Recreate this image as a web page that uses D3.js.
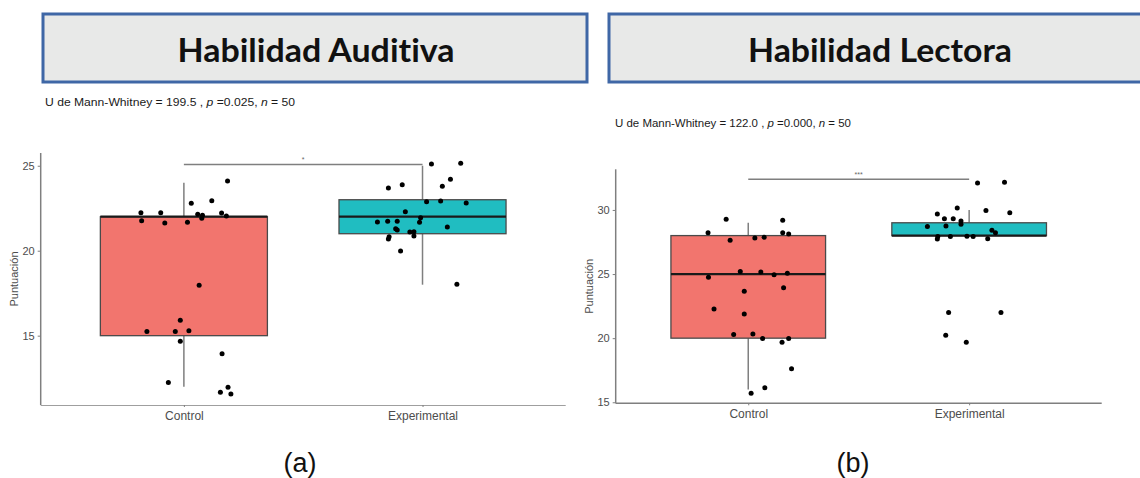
<!DOCTYPE html>
<html>
<head>
<meta charset="utf-8">
<script src="https://cdn.jsdelivr.net/npm/d3@7"></script>
<style>
  html, body { margin: 0; padding: 0; background: #ffffff; }
  svg { display: block; }
  .title { font-variant-ligatures: none; font-feature-settings: "liga" 0; }
</style>
</head>
<body>
<svg id="chart" width="1140" height="478"></svg>
<script>
// ---- data ----
const categories = ["Control", "Experimental"];
const groupColors = ["#f2756e", "#20bdc1"];

// Habilidad Auditiva: box summary [min whisker, Q1, median, Q3, max whisker]
const auditivaBoxControl = [12, 15, 22, 22, 24];
const auditivaBoxExperimental = [18, 21, 22, 23, 25];
const auditivaTicks = [15, 20, 25];

// individual scores (with the vertical jitter of the plot) and horizontal jitter, in category steps
const auditivaControlScores = [22.24, 22.24, 21.76, 21.63, 21.67, 22.79, 22.14, 22.08, 21.91, 22.94, 22.22, 22.04, 24.1,
  17.96, 15.91, 15.24, 15.24, 15.29, 14.67, 13.94, 12.24, 11.96, 11.67, 11.57];
const auditivaControlJitter = [-0.18, -0.097, -0.177, -0.08, 0.015, 0.031, 0.058, 0.078, 0.075, 0.117, 0.158, 0.178, 0.183,
  0.064, -0.015, -0.155, -0.036, 0.021, -0.015, 0.16, -0.065, 0.185, 0.153, 0.197];
const auditivaExperimentalScores = [25.1, 25.14, 23.69, 23.88, 23.79, 24.2, 22.88, 22.92, 22.81, 22.29, 21.94, 21.69, 21.73,
  21.73, 21.67, 21.39, 21.29, 21.22, 21.1, 21.12, 20.86, 20.82, 20.69, 19.98, 18.02];
const auditivaExperimentalJitter = [0.0375, 0.16, -0.143, -0.085, 0.083, 0.117, 0.017, 0.076, 0.183, -0.072, -0.008, -0.189, -0.146,
  -0.106, -0.0125, 0.104, -0.1125, -0.106, -0.053, -0.036, -0.036, -0.14, -0.143, -0.092, 0.144];

// Habilidad Lectora
const lectoraBoxControl = [16, 20, 25, 28, 29];
const lectoraBoxExperimental = [28, 28, 28, 29, 30];
const lectoraTicks = [15, 20, 25, 30];

const lectoraControlScores = [28.23, 29.27, 27.64, 27.82, 27.87, 29.2, 28.23, 28.13, 25.19, 25.17, 24.75, 24.94, 25.07,
  23.66, 23.94, 22.28, 21.89, 20.28, 20.33, 19.97, 19.69, 19.97, 17.61, 16.13, 15.71];
const lectoraControlJitter = [-0.182, -0.1, -0.082, 0.03, 0.072, 0.156, 0.156, 0.183, -0.036, 0.057, -0.18, 0.117, 0.177,
  -0.018, 0.16, -0.155, -0.018, -0.066, 0.021, 0.065, 0.153, 0.183, 0.196, 0.075, 0.013];
const lectoraExperimentalScores = [32.1, 32.16, 30.16, 29.69, 29.95, 29.79, 29.32, 29.32, 29.14, 28.89, 28.7, 28.75, 28.42,
  28.23, 27.92, 27.74, 27.92, 27.95, 27.92, 27.76, 22.0, 22.0, 20.23, 19.69];
const lectoraExperimentalJitter = [0.038, 0.16, -0.054, -0.144, 0.076, 0.184, -0.112, -0.072, -0.037, -0.037, -0.189, -0.105, 0.103,
  0.119, -0.142, -0.144, -0.085, -0.01, 0.018, 0.084, -0.093, 0.144, -0.106, -0.013];

// test results shown above each plot
const auditivaTest = { U: "199.5", p: "0.025", n: "50", stars: "*", bracketAt: 25.08 };
const lectoraTest = { U: "122.0", p: "0.000", n: "50", stars: "***", bracketAt: 32.39 };

// ---- drawing ----
const svg = d3.select("#chart");
const AXIS_GREY = "#7f7f7f";
const TEXT_GREY = "#4d4d4d";

function titleBox(x, y, w, h, label, cx, textWidth) {
  const g = svg.append("g");
  g.append("rect").attr("x", x).attr("y", y).attr("width", w).attr("height", h)
    .attr("fill", "#e8e9e8").attr("stroke", "#3f67a6").attr("stroke-width", 3);
  g.append("text").attr("class", "title").attr("x", cx).attr("y", y + 48)
    .attr("text-anchor", "middle")
    .attr("font-family", "Lato, 'Open Sans', sans-serif")
    .attr("font-weight", 700).attr("font-size", 33).attr("fill", "#111")
    .attr("textLength", textWidth).attr("lengthAdjust", "spacingAndGlyphs")
    .text(label);
}

function subtitle(x, y, test, width) {
  const t = svg.append("text").attr("x", x).attr("y", y)
    .attr("font-family", "'Liberation Sans', Arial, sans-serif")
    .attr("font-size", 11).attr("fill", "#1a1a1a")
    .attr("textLength", width).attr("lengthAdjust", "spacingAndGlyphs");
  t.append("tspan").text(`U de Mann-Whitney = ${test.U} , `);
  t.append("tspan").attr("font-style", "italic").text("p");
  t.append("tspan").text(` =${test.p}, `);
  t.append("tspan").attr("font-style", "italic").text("n");
  t.append("tspan").text(` = ${test.n}`);
}

function panel(cfg) {
  const g = svg.append("g");
  const x = d3.scalePoint().domain(categories).range([cfg.left, cfg.right]).padding(0.6);
  const step = x.step();
  const y = d3.scaleLinear().domain(cfg.yDomain).range([cfg.bottom, cfg.top]);
  const boxW = step * 0.7;

  // significance bracket
  g.append("line")
    .attr("x1", x(categories[0])).attr("x2", x(categories[1]))
    .attr("y1", y(cfg.test.bracketAt)).attr("y2", y(cfg.test.bracketAt))
    .attr("stroke", AXIS_GREY).attr("stroke-width", 1.5);
  g.append("text")
    .attr("x", (x(categories[0]) + x(categories[1])) / 2)
    .attr("y", y(cfg.test.bracketAt) - 2)
    .attr("text-anchor", "middle")
    .attr("font-family", "'Liberation Sans', Arial, sans-serif")
    .attr("font-size", 7).attr("fill", "#666")
    .text(cfg.test.stars);

  // boxes
  cfg.boxes.forEach((b, i) => {
    const cx = x(categories[i]);
    const [lo, q1, med, q3, hi] = b;
    g.append("line").attr("x1", cx).attr("x2", cx).attr("y1", y(q3)).attr("y2", y(hi))
      .attr("stroke", AXIS_GREY).attr("stroke-width", 1.5);
    g.append("line").attr("x1", cx).attr("x2", cx).attr("y1", y(q1)).attr("y2", y(lo))
      .attr("stroke", AXIS_GREY).attr("stroke-width", 1.5);
    g.append("rect")
      .attr("x", cx - boxW / 2).attr("width", boxW)
      .attr("y", y(q3)).attr("height", y(q1) - y(q3))
      .attr("fill", groupColors[i]).attr("stroke", "#4a4a4a").attr("stroke-width", 1.3);
    g.append("line")
      .attr("x1", cx - boxW / 2).attr("x2", cx + boxW / 2)
      .attr("y1", y(med)).attr("y2", y(med))
      .attr("stroke", "#1a1a1a").attr("stroke-width", 2.2);
  });

  // jittered points
  cfg.points.forEach((p, i) => {
    const cx = x(categories[i]);
    g.selectAll(null).data(p.scores).join("circle")
      .attr("cx", (d, j) => cx + p.jitter[j] * step)
      .attr("cy", d => y(d))
      .attr("r", 2.5).attr("fill", "#000");
  });

  // axes
  const yAxis = g.append("g").attr("transform", `translate(${cfg.left},0)`)
    .call(d3.axisLeft(y).tickValues(cfg.ticks).tickSize(3).tickPadding(3).tickFormat(d3.format("d")));
  const xAxis = g.append("g").attr("transform", `translate(0,${cfg.bottom})`)
    .call(d3.axisBottom(x).tickSize(2).tickPadding(4));
  if (cfg.clipBottom) {
    const id = "clip-" + Math.round(cfg.left);
    svg.append("clipPath").attr("id", id).append("rect")
      .attr("x", 0).attr("y", 0).attr("width", 1140).attr("height", cfg.clipBottom);
    xAxis.attr("clip-path", `url(#${id})`);
  }
  [yAxis, xAxis].forEach(a => {
    a.select(".domain").attr("stroke", AXIS_GREY).attr("stroke-width", 1.5);
    a.selectAll(".tick line").attr("stroke", AXIS_GREY).attr("stroke-width", 1);
    a.selectAll(".tick text").attr("fill", TEXT_GREY)
      .attr("font-family", "'Liberation Sans', Arial, sans-serif");
  });
  yAxis.selectAll(".tick text").attr("font-size", 11);
  xAxis.selectAll(".tick text").attr("font-size", 12);
  // axis lines without end caps
  yAxis.select(".domain").attr("d", `M0,${cfg.top}V${cfg.bottom}`);
  xAxis.select(".domain").attr("d", `M${cfg.left},0H${cfg.right}`);

  g.append("text")
    .attr("transform", `translate(${cfg.ylabelX},${(cfg.top + cfg.bottom) / 2}) rotate(-90)`)
    .attr("text-anchor", "middle")
    .attr("font-family", "'Liberation Sans', Arial, sans-serif")
    .attr("font-size", 11).attr("fill", TEXT_GREY)
    .text("Puntuación");

  svg.append("text").attr("x", cfg.tagX).attr("y", 472)
    .attr("text-anchor", "middle")
    .attr("font-family", "'Liberation Sans', Arial, sans-serif")
    .attr("font-size", 27).attr("fill", "#111")
    .text(cfg.tag);
}

titleBox(43, 14, 544, 68, "Habilidad Auditiva", 316, 277);
titleBox(609, 14, 545, 68, "Habilidad Lectora", 880, 264);
subtitle(45, 106, auditivaTest, 250);
subtitle(615, 127, lectoraTest, 236);

panel({
  left: 40.7, right: 565.7, top: 153, bottom: 405,
  yDomain: [10.92, 25.75], ticks: auditivaTicks,
  boxes: [auditivaBoxControl, auditivaBoxExperimental],
  points: [
    { scores: auditivaControlScores, jitter: auditivaControlJitter },
    { scores: auditivaExperimentalScores, jitter: auditivaExperimentalJitter }
  ],
  test: auditivaTest, ylabelX: 18, tag: "(a)", tagX: 300, clipBottom: 421
});

panel({
  left: 615.7, right: 1101.7, top: 169.3, bottom: 403.3,
  yDomain: [14.92, 33.17], ticks: lectoraTicks,
  boxes: [lectoraBoxControl, lectoraBoxExperimental],
  points: [
    { scores: lectoraControlScores, jitter: lectoraControlJitter },
    { scores: lectoraExperimentalScores, jitter: lectoraExperimentalJitter }
  ],
  test: lectoraTest, ylabelX: 593, tag: "(b)", tagX: 853, clipBottom: null
});
</script>
</body>
</html>
